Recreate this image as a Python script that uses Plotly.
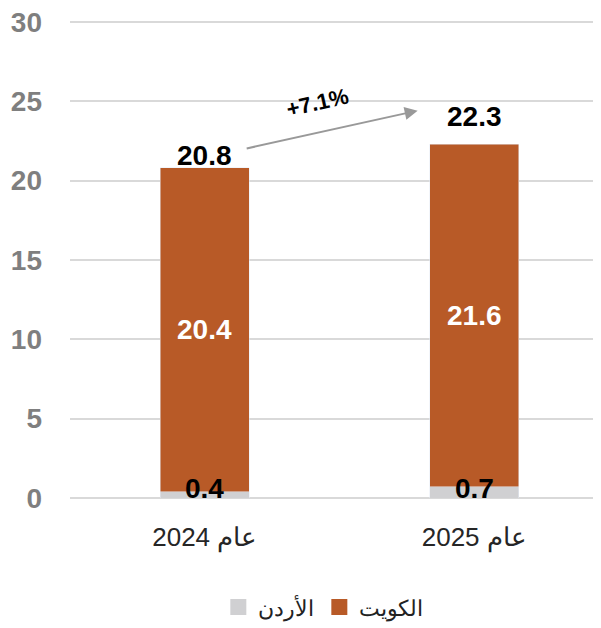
import plotly.graph_objects as go

categories = ["عام 2024", "عام 2025"]
jordan = [0.4, 0.7]
kuwait = [20.4, 21.6]
totals = [20.8, 22.3]
growth_label = "+7.1%"
y_ticks = [0, 5, 10, 15, 20, 25, 30]

C_KW = "#B85A27"
C_JO = "#D0D0D2"
FONT = "Liberation Sans, Arial, sans-serif"

xpos = list(range(len(categories)))

fig = go.Figure()
fig.add_trace(go.Bar(x=xpos, y=jordan, marker_color=C_JO, width=0.33,
                     showlegend=False, hoverinfo="skip"))
fig.add_trace(go.Bar(x=xpos, y=kuwait, marker_color=C_KW, width=0.33,
                     showlegend=False, hoverinfo="skip"))
# legend proxies
fig.add_trace(go.Scatter(x=[None], y=[None], mode="markers", name="الأردن",
                         marker=dict(symbol="square", size=17, color=C_JO)))
fig.add_trace(go.Scatter(x=[None], y=[None], mode="markers", name="الكويت",
                         marker=dict(symbol="square", size=17, color=C_KW)))

ann = []
for i in xpos:
    ann.append(dict(x=i, y=jordan[i] + kuwait[i] / 2, text=f"<b>{kuwait[i]}</b>",
                    showarrow=False, font=dict(family=FONT, size=28, color="white")))
    ann.append(dict(x=i, y=0, text=f"<b>{jordan[i]}</b>", yanchor="middle",
                    yshift=10, showarrow=False, font=dict(family=FONT, size=28, color="black")))
ann.append(dict(x=0, y=totals[0], text=f"<b>{totals[0]}</b>", yanchor="bottom", yshift=-5,
                showarrow=False, font=dict(family=FONT, size=28, color="black")))
ann.append(dict(x=1, y=totals[1], text=f"<b>{totals[1]}</b>", yanchor="bottom", yshift=10,
                showarrow=False, font=dict(family=FONT, size=28, color="black")))
# growth arrow
ann.append(dict(x=0.79, y=24.4, ax=0.15, ay=22.0, xref="x", yref="y", axref="x", ayref="y",
                text="", showarrow=True, arrowhead=2, arrowsize=1.3, arrowwidth=2,
                arrowcolor="#999999"))
ann.append(dict(x=0.42, y=24.9, text=f"<b>{growth_label}</b>", textangle=-13,
                showarrow=False, font=dict(family=FONT, size=22, color="black")))

fig.update_layout(
    width=601, height=628,
    margin=dict(l=62, r=0, t=9, b=138),
    paper_bgcolor="white", plot_bgcolor="white",
    barmode="stack",
    font=dict(family=FONT),
    annotations=ann,
    legend=dict(orientation="h", x=0.47, xanchor="center", xref="paper",
                y=-0.227, yanchor="middle", traceorder="normal",
                font=dict(family=FONT, size=22, color="#222222"),
                itemwidth=30),
)
fig.update_xaxes(range=[-0.5, 1.5], tickvals=xpos, ticktext=categories,
                 showgrid=False, zeroline=False, showline=False, ticks="",
                 tickfont=dict(family=FONT, size=26, color="#262626"),
                 ticklabelstandoff=21)
fig.update_yaxes(range=[0, 30.3], tickvals=y_ticks, showgrid=True, gridcolor="#D9D9D9",
                 gridwidth=1.5, zeroline=True, zerolinecolor="#D9D9D9", zerolinewidth=2,
                 tickfont=dict(family=FONT, size=28, color="#7F7F7F", weight="bold"),
                 ticklabelstandoff=27, ticklabeloverflow="allow")

fig.write_html("out.html")
